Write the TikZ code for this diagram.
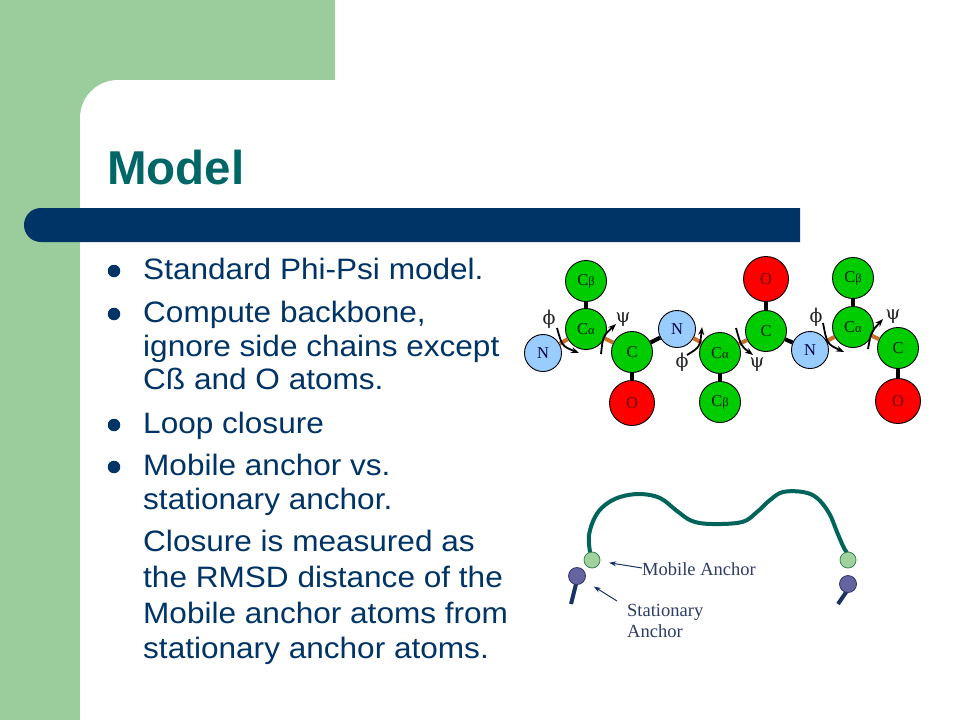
\documentclass[tikz,border=0pt]{standalone}
\usepackage{fontspec}
\setmainfont{Liberation Serif}
\newfontfamily\bodyfont[FakeStretch=1.07]{Liberation Sans}
\newfontfamily\titlefont{Liberation Sans}
\newfontfamily\greekfont{DejaVu Serif}
\usetikzlibrary{arrows.meta}
\definecolor{bggreen}{RGB}{155,204,155}
\definecolor{navy}{RGB}{0,51,102}
\definecolor{teal2}{RGB}{0,102,102}
\definecolor{atomgreen}{RGB}{0,204,0}
\definecolor{atomred}{RGB}{255,0,0}
\definecolor{atomblue}{RGB}{153,204,255}
\definecolor{rotbond}{RGB}{200,110,40}
\definecolor{loopcol}{RGB}{0,100,90}
\definecolor{mobfill}{RGB}{160,210,160}
\definecolor{mobdraw}{RGB}{60,130,80}
\definecolor{statfill}{RGB}{100,100,160}
\definecolor{statdraw}{RGB}{50,50,110}
\definecolor{sticknavy}{RGB}{25,50,100}
\definecolor{labcol}{RGB}{45,60,100}
\begin{document}
\begin{tikzpicture}[x=1pt,y=-1pt,
  atom/.style={circle,draw=black,line width=0.9pt,inner sep=0pt,font=\fontsize{16.5}{16.5}\selectfont},
  atomC/.style={atom,fill=atomgreen,minimum size=41pt,text=green!12!black},
  atomN/.style={atom,fill=atomblue,minimum size=37pt,text=blue!30!black},
  atomO/.style={atom,fill=atomred,minimum size=45pt,text=red!40!black},
  bond/.style={line width=4pt,black},
  rbond/.style={line width=4pt,rotbond},
  tors/.style={line width=1.8pt,-{Stealth[length=8pt,width=6pt]}},
  anglab/.style={inner sep=0pt,text=black!85,font=\greekfont\fontsize{19}{19}\selectfont},
  bodytxt/.style={anchor=base west,inner sep=0pt,text=navy,font=\bodyfont\fontsize{29.5}{30}\selectfont},
  bul/.style={circle,fill=navy,inner sep=0pt,minimum size=12.5pt},
  labtxt/.style={anchor=base west,inner sep=0pt,text=labcol,font=\fontsize{18.5}{19}\selectfont},
  labarrow/.style={line width=1pt,sticknavy,-{Stealth[length=7pt,width=5pt]}},
  stick/.style={line width=4pt,sticknavy},
  mob/.style={circle,fill=mobfill,draw=mobdraw,line width=0.8pt,minimum size=16pt,inner sep=0pt},
  stat/.style={circle,fill=statfill,draw=statdraw,line width=0.8pt,minimum size=17pt,inner sep=0pt}
]
\useasboundingbox (0,0) rectangle (960,720);
% background
\fill[bggreen] (0,0) rectangle (960,720);
\fill[white] (335,80) -- (335,0) -- (960,0) -- (960,720) -- (80,720) -- (80,118)
  .. controls (80,97) and (97,80) .. (118,80) -- cycle;
\fill[navy] (800,208) -- (41,208) .. controls (31,208) and (24,216) .. (24,225)
  .. controls (24,234) and (31,242) .. (41,242) -- (800,242) -- cycle;
% title
\node[anchor=base west,inner sep=0pt,text=teal2,font=\titlefont\bfseries\fontsize{47.5}{48}\selectfont] (title) at (107,184) {Model};
% bullets and text
\node[bul] (b1) at (114,271) {};
\node[bodytxt] (t1) at (143,279) {Standard Phi-Psi model.};
\node[bul] (b2) at (114,314) {};
\node[bodytxt] (t2) at (143,322) {Compute backbone,};
\node[bodytxt] (t3) at (143,356) {ignore side chains except};
\node[bodytxt] (t4) at (143,389) {Cß and O atoms.};
\node[bul] (b3) at (114,425) {};
\node[bodytxt] (t5) at (143,433) {Loop closure};
\node[bul] (b4) at (114,467) {};
\node[bodytxt] (t6) at (143,475) {Mobile anchor vs.};
\node[bodytxt] (t7) at (143,509) {stationary anchor.};
\node[bodytxt] (t8) at (143,551) {Closure is measured as};
\node[bodytxt] (t9) at (143,587) {the RMSD distance of the};
\node[bodytxt] (t10) at (143,623) {Mobile anchor atoms from};
\node[bodytxt] (t11) at (143,658) {stationary anchor atoms.};
% molecule atoms
\node[atomC] (cb1) at (586,281) {C{\fontsize{12.5}{12.5}\selectfont β}};
\node[atomC] (ca1) at (586,329) {C{\fontsize{12.5}{12.5}\selectfont α}};
\node[atomN] (n1) at (543,353) {N};
\node[atomC] (c1) at (632,352) {C};
\node[atomO] (o1) at (632,403) {O};
\node[atomN] (n2) at (677,329) {N};
\node[atomC] (ca2) at (720,353) {C{\fontsize{12.5}{12.5}\selectfont α}};
\node[atomC] (cb2) at (720,402) {C{\fontsize{12.5}{12.5}\selectfont β}};
\node[atomO] (o2) at (766,279) {O};
\node[atomC] (c2) at (766,331) {C};
\node[atomN] (n3) at (810,350) {N};
\node[atomC] (ca3) at (853,327) {C{\fontsize{12.5}{12.5}\selectfont α}};
\node[atomC] (cb3) at (853,278) {C{\fontsize{12.5}{12.5}\selectfont β}};
\node[atomC] (c3) at (898,348) {C};
\node[atomO] (o3) at (898,401) {O};
% bonds
\draw[bond] (cb1) -- (ca1);
\draw[bond] (c1) -- (o1);
\draw[bond] (c1) -- (n2);
\draw[bond] (ca2) -- (cb2);
\draw[bond] (o2) -- (c2);
\draw[bond] (c2) -- (n3);
\draw[bond] (cb3) -- (ca3);
\draw[bond] (c3) -- (o3);
\draw[rbond] (n1) -- (ca1);
\draw[rbond] (ca1) -- (c1);
\draw[rbond] (n2) -- (ca2);
\draw[rbond] (ca2) -- (c2);
\draw[rbond] (n3) -- (ca3);
\draw[rbond] (ca3) -- (c3);
% torsion arrows
\draw[tors] (557,328) .. controls (562,346) .. (579,353);
\draw[tors] (601,354) .. controls (603,336) .. (616,324);
\draw[tors] (687,355) .. controls (700,347) .. (702,327);
\draw[tors] (736,328) .. controls (741,346) .. (753,355);
\draw[tors] (823,323) .. controls (827,344) .. (844,352);
\draw[tors] (868,349) .. controls (871,332) .. (883,319);
\node[anglab] (phi1) at (549,319) {ϕ};
\node[anglab] (psi1) at (623,320) {ψ};
\node[anglab] (phi2) at (682,362) {ϕ};
\node[anglab] (psi2) at (757,365) {ψ};
\node[anglab] (phi3) at (816,317) {ϕ};
\node[anglab] (psi3) at (893,317) {ψ};
% loop diagram
\draw[loopcol,line width=4pt,line cap=round] plot[smooth,tension=0.6] coordinates {
 (590,552) (589,535) (595,517) (605,505) (620,497) (640,494) (660,498) (677,511)
 (692,521) (712,524) (742,522) (757,512) (770,500) (783,492) (803,492) (817,498)
 (829,513) (837,532) (843,546) (847,553)};
\coordinate (stickL) at (571,604);
\coordinate (stickR) at (838,604);
\draw[stick] (577,580) -- (stickL);
\draw[stick] (849,588) -- (stickR);
\node[mob] (mobL) at (592,560) {};
\node[mob] (mobR) at (848,560) {};
\node[stat] (statL) at (577,576) {};
\node[stat] (statR) at (848,584) {};
\node[labtxt] (mlab) at (642,575) {Mobile Anchor};
\node[labtxt] (slab1) at (627,616) {Stationary};
\node[labtxt] (slab2) at (627,637) {Anchor};
\coordinate (mstart) at (642,568);
\coordinate (sstart) at (617,601);
\draw[labarrow,shorten >=9pt] (mstart) -- (mobL);
\draw[labarrow,shorten >=11pt] (sstart) -- (statL);
\end{tikzpicture}
\end{document}
